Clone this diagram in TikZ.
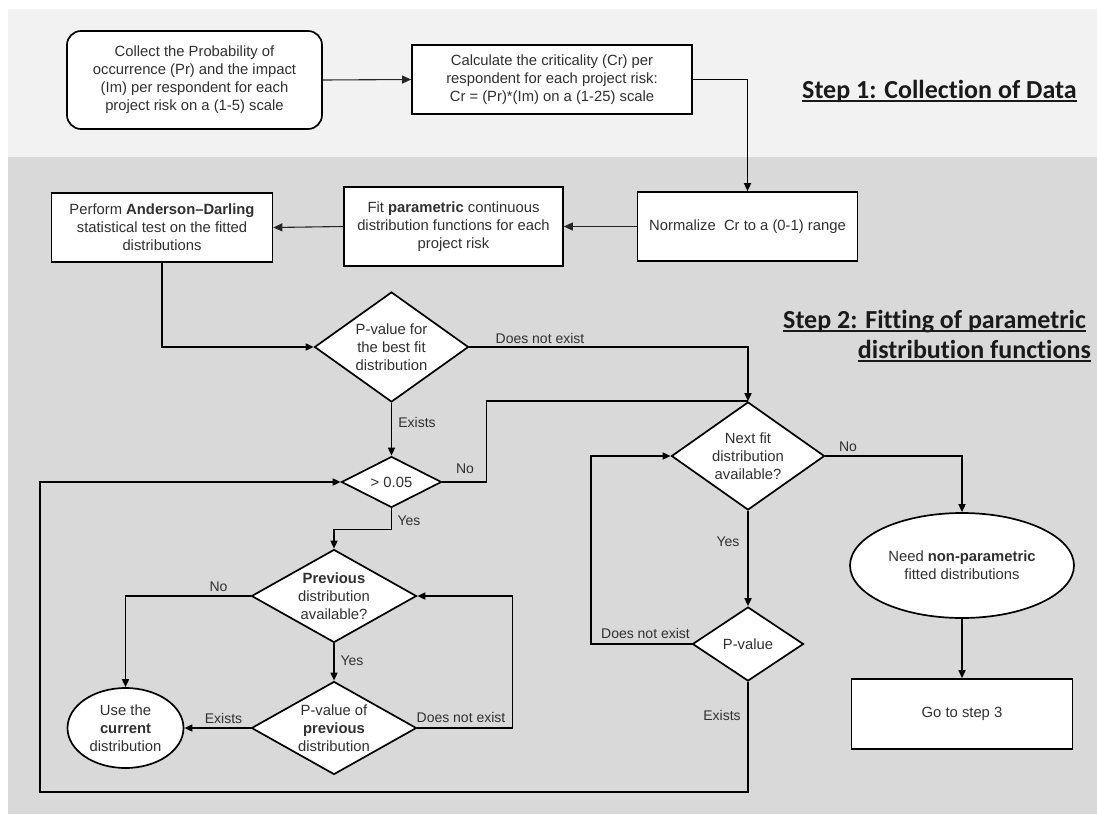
\documentclass[tikz,border=0pt]{standalone}
\usepackage{fontspec}
\setmainfont{Liberation Sans}
\newfontfamily\headfont[Ligatures=NoCommon]{Carlito}
\usetikzlibrary{shapes.geometric,arrows.meta}

\definecolor{panelA}{HTML}{F2F2F2}
\definecolor{panelB}{HTML}{D9D9D9}
\definecolor{ink}{HTML}{303030}
\definecolor{headink}{HTML}{1A1A1A}

\begin{document}
\begin{tikzpicture}[x=1pt,y=-1pt,
  every node/.style={font=\fontsize{14.8}{18}\selectfont, text=ink},
  box/.style={draw=black, fill=white, line width=1.7pt, align=center, inner sep=0pt},
  rbox/.style={box, rounded corners=14pt},
  dia/.style={shape=diamond, draw=black, fill=white, line width=1.7pt, inner sep=0pt},
  oval/.style={shape=ellipse, draw=black, fill=white, line width=1.7pt, align=center, inner sep=0pt},
  dtext/.style={align=center, inner sep=0pt},
  conn/.style={draw=black, line width=1.6pt},
  thinconn/.style={draw=black!85, line width=1.1pt, -{Triangle[length=9pt,width=8pt]}},
  arr/.style={conn, -{Triangle[length=8pt,width=7pt]}},
  lbl/.style={font=\fontsize{14}{16}\selectfont, text=ink, anchor=base, inner sep=0pt},
  head/.style={font=\headfont\bfseries\fontsize{26}{30}\selectfont, text=headink, inner sep=0pt},
  uline/.style={draw=headink, line width=1.6pt}
]
\useasboundingbox (0,0) rectangle (1097,814);

% two background panels
\fill[panelA] (8,9) rectangle (1097,157);
\fill[panelB] (8,157) rectangle (1097,814);

% step 1 boxes
\node[rbox, minimum width=255pt, minimum height=98pt] (collect) at (194.5,80)
  {Collect the Probability of\\occurrence (Pr) and the impact\\(Im) per respondent for each\\project risk on a (1-5) scale};
\node[box, minimum width=280pt, minimum height=69pt] (calc) at (552,79.5)
  {Calculate the criticality (Cr) per\\respondent for each project risk:\\Cr = (Pr)*(Im) on a (1-25) scale};

% step 2 boxes
\node[box, minimum width=220pt, minimum height=69pt] (norm) at (747.5,226.5)
  {Normalize \ Cr to a (0-1) range};
\node[box, minimum width=219pt, minimum height=79pt] (fit) at (453.5,226.5)
  {Fit \textbf{parametric} continuous\\distribution functions for each\\project risk};
\node[box, minimum width=221pt, minimum height=69pt] (perf) at (162,227.5)
  {Perform \textbf{Anderson--Darling}\\statistical test on the fitted\\distributions};

% decisions
\node[dia, minimum width=154pt, minimum height=110pt] (d1) at (391.5,347) {};
\node[dtext] at (d1) {P-value for\\the best fit\\distribution};
\node[dia, minimum width=100pt, minimum height=51pt] (d2) at (391.5,482) {};
\node[dtext] at (d2) {> 0.05};
\node[dia, minimum width=165pt, minimum height=93pt] (d3) at (334,596) {};
\node[dtext] at (d3) {\textbf{Previous}\\distribution\\available?};
\node[dia, minimum width=165pt, minimum height=93pt] (d4) at (334,728) {};
\node[dtext] at (d4) {P-value of\\\textbf{previous}\\distribution};
\node[dia, minimum width=153pt, minimum height=108pt] (d5) at (748,456) {};
\node[dtext] at (d5) {Next fit\\distribution\\available?};
\node[dia, minimum width=111pt, minimum height=74pt] (d6) at (748,644) {};
\node[dtext] at (d6) {P-value};

% terminals
\node[oval, minimum width=116pt, minimum height=80pt] (use) at (125.5,728)
  {Use the\\\textbf{current}\\distribution};
\node[oval, minimum width=224pt, minimum height=105pt] (need) at (962,565.5)
  {Need \textbf{non-parametric}\\fitted distributions};
\node[box, minimum width=221pt, minimum height=70pt] (go) at (962,714)
  {Go to step 3};

% headings
\node[head, anchor=base west] (h1) at (802,98) {Step 1: Collection of Data};
\node[head, anchor=base west] (h2a) at (783,328) {Step 2: Fitting of parametric\ };
\node[head, anchor=base east] (h2b) at (1091,358) {distribution functions};
\draw[uline] ([yshift=-3pt]h1.base west) -- ([yshift=-3pt]h1.base east);
\draw[uline] ([yshift=-3pt]h2a.base west) -- ([yshift=-3pt]h2a.base east);
\draw[uline] ([yshift=-3pt]h2b.base west) -- ([yshift=-3pt]h2b.base east);

% connectors
\draw[thinconn] (collect.east) -- (calc.west);
\draw[arr] (calc.east) -| (norm.north);
\draw[thinconn] (norm.west) -- (fit.east);
\draw[thinconn] (fit.west) -- (perf.east);
\draw[arr] (perf.south) |- (d1.west);
\draw[arr] (d1.east) -| (d5.north);
\draw[arr] (d1.south) -- (d2.north);
\draw[conn] (d2.east) -- ++(44,0) |- (d5.north);
\draw[arr] (d2.south) -- ++(0,21) -| (d3.north);
\draw[arr] (d3.west) -| (use.north);
\draw[arr] (d3.south) -- (d4.north);
\draw[arr] (d4.west) -- (use.east);
\draw[arr] (d4.east) -- ++(95,0) |- (d3.east);
\draw[arr] (d5.south) -- (d6.north);
\draw[arr] (d6.west) -- ++(-100.5,0) |- (d5.west);
\draw[arr] (d6.south) |- (40,792) -- (40,482) -- (d2.west);
\draw[arr] (d5.east) -| (need.north);
\draw[arr] (need.south) -- (go.north);

% connector labels
\node[lbl] (l1) at (540,343) {Does not exist};
\node[lbl] (l2) at (417,427) {Exists};
\node[lbl] (l3) at (465,473) {No};
\node[lbl] (l4) at (409,525) {Yes};
\node[lbl] (l5) at (218.5,591) {No};
\node[lbl] (l6) at (352,665) {Yes};
\node[lbl] (l7) at (223.5,723) {Exists};
\node[lbl] (l8) at (461,722) {Does not exist};
\node[lbl] (l9) at (728,546) {Yes};
\node[lbl] (l10) at (645.5,638) {Does not exist};
\node[lbl] (l11) at (722,720) {Exists};
\node[lbl] (l12) at (848,451) {No};
\end{tikzpicture}
\end{document}
